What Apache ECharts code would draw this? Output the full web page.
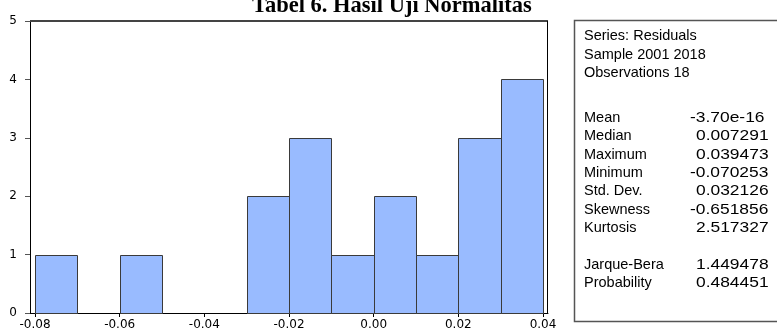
<!DOCTYPE html>
<html>
<head>
<meta charset="utf-8">
<script src="https://cdn.jsdelivr.net/npm/echarts@6/dist/echarts.min.js"></script>
<style>html,body{margin:0;padding:0;background:#fff;}#c{width:777px;height:333px;}</style>
</head>
<body>
<div id="c"></div>
<script>
// ---- data ----
const binEdges = [-0.08, -0.07, -0.06, -0.05, -0.04, -0.03, -0.02, -0.01, 0.00, 0.01, 0.02, 0.03, 0.04];
const counts = [1, 0, 1, 0, 0, 2, 3, 1, 2, 1, 3, 4];
const xTicks = [-0.08, -0.06, -0.04, -0.02, 0.00, 0.02, 0.04];
const yTicks = [0, 1, 2, 3, 4, 5];
const titleText = 'Tabel 6. Hasil Uji Normalitas';
const headerLines = ['Series: Residuals', 'Sample 2001 2018', 'Observations 18'];
const statLabels = ['Mean', 'Median', 'Maximum', 'Minimum', 'Std. Dev.', 'Skewness', 'Kurtosis', '', 'Jarque-Bera', 'Probability'];
const statValues = ['-3.70e-16', '0.007291', '0.039473', '-0.070253', '0.032126', '-0.651856', '2.517327', '', '1.449478', '0.484451'];

// ---- chart ----
const chart = echarts.init(document.getElementById('c'), null, {renderer: 'canvas'});
const font = '"Liberation Sans", Arial, sans-serif';
const axisFont = '"DejaVu Sans", Arial, sans-serif';
const histData = counts.map((c, i) => [binEdges[i], binEdges[i + 1], c]);

const graphics = [];
graphics.push({
  type: 'text', x: 252, y: 6,
  style: {text: titleText, font: 'bold 22.5px "Liberation Serif", "Times New Roman", serif', fill: '#000', align: 'left', verticalAlign: 'middle'}
});
graphics.push({
  type: 'rect', shape: {x: 574.5, y: 20.5, width: 220, height: 301},
  style: {fill: '#fff', stroke: '#555', lineWidth: 1.5}
});
headerLines.forEach((t, i) => {
  graphics.push({type: 'text', x: 584, y: 36 + i * 18.5,
    style: {text: t, font: '14.5px ' + font, fill: '#000', verticalAlign: 'middle'}});
});
statLabels.forEach((t, i) => {
  if (!t) return;
  const y = 118 + i * 18.35;
  graphics.push({type: 'text', x: 584, y: y,
    style: {text: t, font: '14.5px ' + font, fill: '#000', verticalAlign: 'middle'}});
  const v = statValues[i];
  graphics.push({type: 'text', x: v.charAt(0) === '-' ? 690 : 696, y: y, scaleX: 1.2,
    style: {text: v, font: '14.5px ' + font, fill: '#000', verticalAlign: 'middle'}});
});

const option = {
  animation: false,
  backgroundColor: '#fff',
  grid: {left: 30, right: 229, top: 21, bottom: 20},
  xAxis: {
    type: 'value', min: -0.08118, max: 0.04118,
    axisLine: {show: true, onZero: false, lineStyle: {color: '#000', width: 1}},
    axisTick: {show: true, customValues: xTicks, length: 4, lineStyle: {color: '#000'}},
    axisLabel: {customValues: xTicks, formatter: v => v.toFixed(2), color: '#000', fontFamily: axisFont, fontSize: 12, margin: 6},
    splitLine: {show: false}
  },
  yAxis: {
    type: 'value', min: 0, max: 5, interval: 1,
    axisLine: {show: true, onZero: false, lineStyle: {color: '#000', width: 1}},
    axisTick: {show: true, length: 5, lineStyle: {color: '#555'}},
    axisLabel: {color: '#000', fontFamily: axisFont, fontSize: 12, margin: 13},
    splitLine: {show: false}
  },
  series: [{
    type: 'custom',
    data: histData,
    renderItem: function (params, api) {
      if (api.value(2) <= 0) return;
      const p0 = api.coord([api.value(0), api.value(2)]);
      const p1 = api.coord([api.value(1), 0]);
      return {
        type: 'rect',
        shape: {x: Math.round(p0[0]) + 0.5, y: Math.round(p0[1]) + 0.5, width: Math.round(p1[0]) - Math.round(p0[0]), height: Math.round(p1[1]) - Math.round(p0[1])},
        style: {fill: '#99bbff', stroke: '#3a3a3a', lineWidth: 1}
      };
    }
  }],
  graphic: graphics.concat([
    {type: 'line', shape: {x1: 30, y1: 21, x2: 548, y2: 21}, style: {stroke: '#444', lineWidth: 2}, z: 100},
    {type: 'line', shape: {x1: 547.5, y1: 21, x2: 547.5, y2: 313}, style: {stroke: '#000', lineWidth: 1}, z: 100}
  ])
};
chart.setOption(option);
</script>
</body>
</html>
